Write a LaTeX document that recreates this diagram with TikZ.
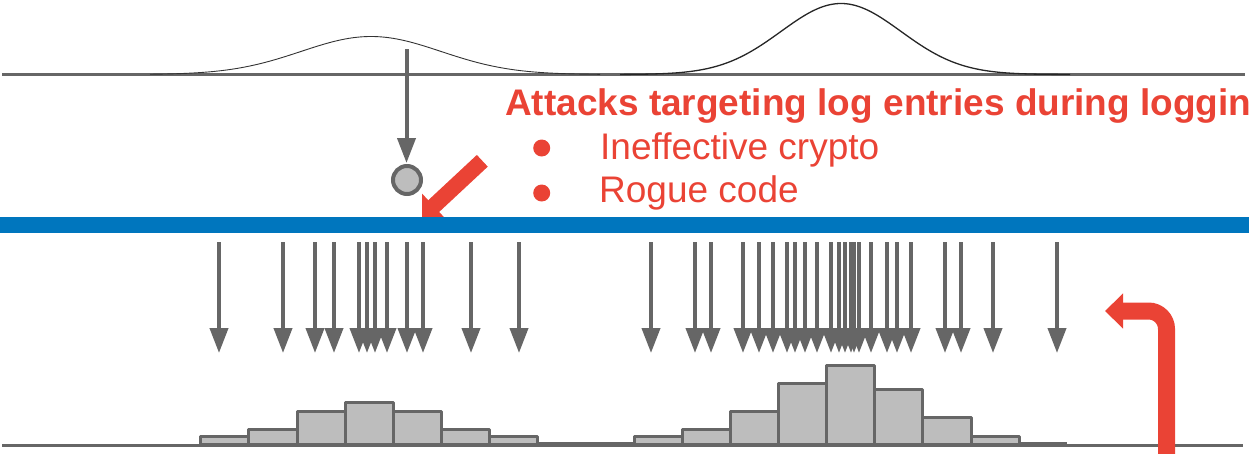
\documentclass[tikz,border=0pt]{standalone}
\usepackage{fontspec}
\setmainfont{Liberation Sans}
\usetikzlibrary{arrows.meta}

\definecolor{linegray}{HTML}{666666}
\definecolor{barfill}{HTML}{BDBDBD}
\definecolor{alertred}{HTML}{EA4335}
\definecolor{streamblue}{RGB}{0,118,190}

\tikzset{
  baseline rule/.style={draw=linegray, line width=3pt},
  event arrow/.style={draw=linegray, line width=4pt, -{Triangle[length=25pt,width=18pt]}},
  bin/.style={draw=linegray, fill=barfill, line width=3pt, line join=round},
  empty bin/.style={draw=linegray, line width=4pt},
  alert arrow/.style={draw=alertred, line width=16pt, -{Triangle[length=16pt,width=33pt]}},
  alert text/.style={text=alertred, font=\fontsize{37}{44}\selectfont, inner sep=0pt, anchor=base west},
  list dot/.style={circle, fill=alertred, minimum size=17pt, inner sep=0pt},
}

\begin{document}
\begin{tikzpicture}[x=1pt,y=-1pt]
  \useasboundingbox (0,0) rectangle (1249,453);
  \clip (0,0) rectangle (1249,453);

  % --- top: distributions over time ---
  \draw[baseline rule] (2,74.5) -- (1245,74.5);
  \draw[black!80, line width=0.9pt, domain=150:600, samples=160, smooth]
    plot (\x, {74.5 - 38*exp(-0.5*((\x-371)/70)^2)});
  \draw[black!85, line width=1.3pt, domain=620:1070, samples=160, smooth]
    plot (\x, {74.5 - 71*exp(-0.5*((\x-841)/60)^2)});

  % a single sampled event
  \coordinate (sampletop) at (406.5,49);
  \coordinate (sampletip) at (406.5,163);
  \draw[event arrow] (sampletop) -- (sampletip);
  \node[circle, draw=linegray, fill=barfill, line width=4pt, minimum size=28pt, inner sep=0pt]
    (entry) at (407,180) {};

  % attack onto the logging stream
  \coordinate (attackfrom) at (482.3,160.8);
  \coordinate (attackto) at (422,217);
  \draw[alert arrow] (attackfrom) -- (attackto);

  % log stream
  \fill[streamblue] (0,217) rectangle (1249,233);

  % --- annotation ---
  \node[alert text, font=\fontsize{37}{44}\selectfont\bfseries] (title) at (505,115)
    {Attacks targeting log entries during logging};
  \node[list dot] (dotA) at (541.7,148) {};
  \node[list dot] (dotB) at (541.7,193) {};
  \node[alert text] (itemA) at (600,159.3) {Ineffective crypto};
  \node[alert text] (itemB) at (599,202.7) {Rogue code};

  % --- logged events ---
  \foreach \x [count=\i] in {219,283,315,334,359,367,375,387,407,423,471,519,
      651,695,711,743,759,773,787,795,805,817,831,839,845,851,854,859,871,887,897,911,945,961,993,1057} {
    \coordinate (ev\i) at (\x,242);
    \coordinate (evtip\i) at (\x,353);
    \draw[event arrow] (ev\i) -- (evtip\i);
  }

  % --- bottom: histogram of logged events ---
  \draw[baseline rule] (2,445.5) -- (1243,445.5);
  \foreach \k/\h in {0/436,1/429,2/411,3/402.7,4/411,5/429,6/436,
                     9/436,10/429.3,11/411.3,12/383.3,13/365.3,14/389.3,15/417.7,16/436} {
    \draw[bin] ({200.7+48.15*\k},444) rectangle ({200.7+48.15*(\k+1)},\h);
  }
  \draw[empty bin] ({200.7+48.15*7},443.5) -- ({200.7+48.15*9},443.5);
  \draw[empty bin] ({200.7+48.15*17},443.5) -- ({200.7+48.15*18},443.5);

  % feedback from the histogram
  \coordinate (fbstart) at (1166.5,460);
  \coordinate (fbbend) at (1166.5,311);
  \coordinate (fbtip) at (1105,311);
  \draw[draw=alertred, line width=17pt, rounded corners=18pt,
        -{Triangle[length=18pt,width=34pt]}] (fbstart) -- (fbbend) -- (fbtip);
\end{tikzpicture}
\end{document}
